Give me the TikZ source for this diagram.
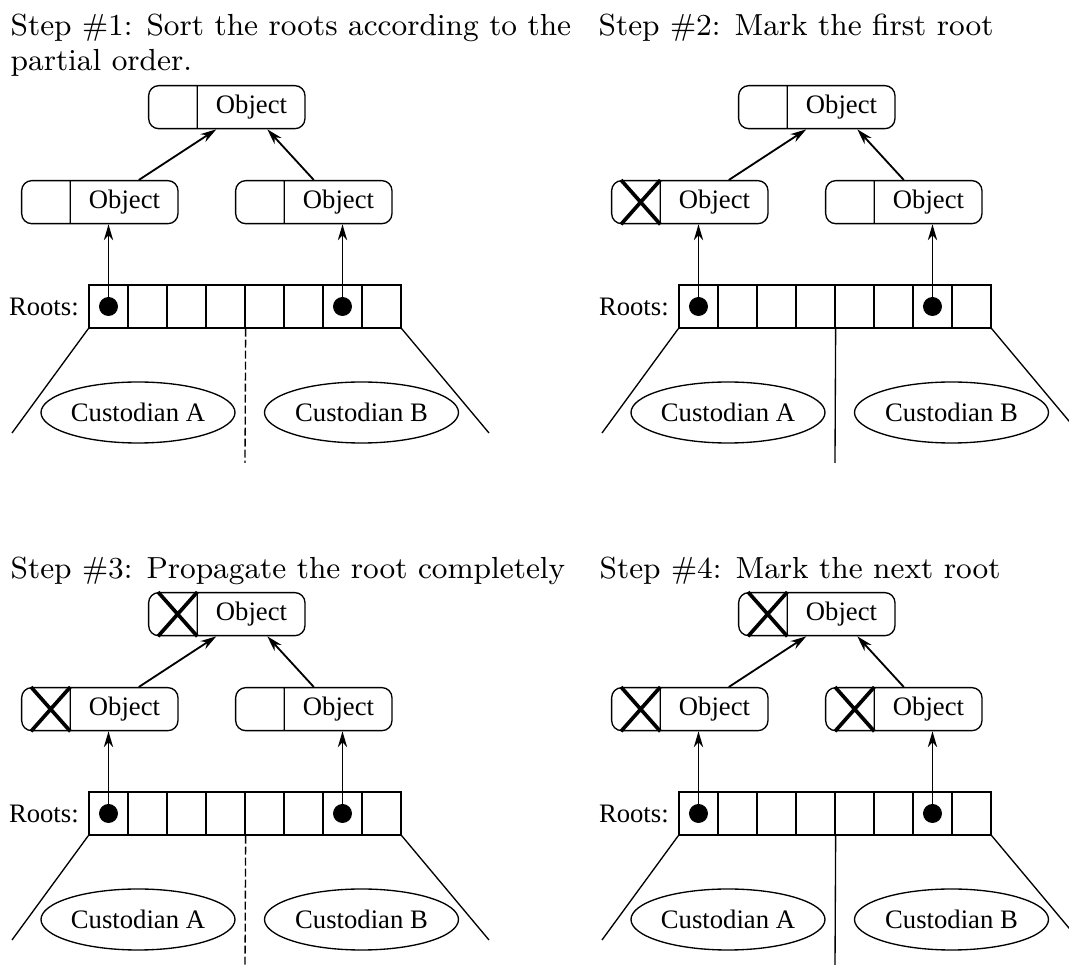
\documentclass[tikz,border=0pt]{standalone}
\usepackage{fontspec}
\newfontfamily\figfont{Liberation Serif}
\usetikzlibrary{arrows.meta,shapes.geometric,shapes.multipart}

% one panel: #1 name prefix, #2 shift, #3 style of the middle cut
\newcommand{\rootpanel}[3]{%
  \begin{scope}[shift={#2}]
    \node[objbox, anchor=north west] (#1top) at (148,85)
      {\nodepart{one}\rule{3.63pt}{0pt}\nodepart{two}Object};
    \node[objbox, anchor=north west] (#1left) at (21,180)
      {\nodepart{one}\rule{3.63pt}{0pt}\nodepart{two}Object};
    \node[objbox, anchor=north west] (#1right) at (235,180)
      {\nodepart{one}\rule{3.63pt}{0pt}\nodepart{two}Object};
    \foreach \i in {1,...,8}
      \node[cell] (#1c\i) at ({69.5+39*\i},306.5) {};
    \node[figtext, anchor=east, inner xsep=2.7pt] (#1lab) at (#1c1.west) {Roots:};
    \node[dot] (#1d1) at (#1c1) {};
    \node[dot] (#1d7) at (#1c7) {};
    \draw[ptr] (#1d1.center) -- (#1d1.center |- #1left.south);
    \draw[ptr] (#1d7.center) -- (#1d7.center |- #1right.south);
    \draw[ptr] ([shift={(39,0)}]#1left.north) -- ([shift={(-10.5,0)}]#1top.south);
    \draw[ptr] (#1right.north) -- ([shift={(40.5,0)}]#1top.south);
    \coordinate (#1ll) at (12,433);
    \coordinate (#1lr) at (489,433);
    \coordinate (#1lb) at (245,463);
    \draw[thinline] (#1c1.south west) -- (#1ll);
    \draw[thinline] (#1c8.south east) -- (#1lr);
    \draw[thinline,#3] (#1c4.south east) -- (#1lb);
    \node[custbox] (#1ca) at (138,412.5) {Custodian A};
    \node[custbox] (#1cb) at (361.5,412.5) {Custodian B};
  \end{scope}
}
% cross in the left part of an object
\newcommand{\markobj}[1]{%
  \draw[markx] ([xshift=3pt]#1.north west) -- (#1.one split south)
               ([xshift=3pt]#1.south west) -- (#1.one split north);
}

\begin{document}
\begin{tikzpicture}[
    x=0.3pt, y=-0.3pt,
    figtext/.style={font=\figfont\fontsize{8}{9.6}\selectfont},
    objbox/.style={figtext, draw, line width=0.4pt, rounded corners=3pt,
      rectangle split, rectangle split horizontal, rectangle split parts=2,
      inner xsep=5.385pt, inner ysep=1.5pt, text height=8pt, text depth=1.9pt},
    cell/.style={draw, line width=0.4pt, minimum width=11.7pt,
      minimum height=12.9pt, inner sep=0pt},
    dot/.style={circle, fill, minimum size=5.7pt, inner sep=0pt},
    custbox/.style={figtext, ellipse, draw, line width=0.4pt,
      minimum width=58.2pt, minimum height=18.3pt, inner sep=0pt},
    ptr/.style={-{Stealth[length=4.8pt,width=2.8pt]}, line width=0.55pt},
    thinline/.style={line width=0.4pt},
    cutdashed/.style={dash pattern=on 2.4pt off 0.9pt},
    cutsolid/.style={},
    markx/.style={line width=1.1pt},
    steptitle/.style={anchor=base west, align=left, inner sep=0pt,
      font=\fontsize{9.15}{10.5}\selectfont}
    ]
    \useasboundingbox (0,0) rectangle (1069,965);

    \rootpanel{p1}{(0,0)}{cutdashed}
    \rootpanel{p2}{(590,0)}{cutsolid}
    \rootpanel{p3}{(0,507)}{cutdashed}
    \rootpanel{p4}{(590,507)}{cutsolid}

    \markobj{p2left}
    \markobj{p3top}
    \markobj{p3left}
    \markobj{p4top}
    \markobj{p4left}
    \markobj{p4right}

    % base of a two-line title is its last line
    \node[steptitle] (t1) at (10,71) {Step \#1: Sort the roots according to the\\partial order.};
    \node[steptitle] (t2) at (598,36) {Step \#2: Mark the first root};
    \node[steptitle] (t3) at (10,579) {Step \#3: Propagate the root completely};
    \node[steptitle] (t4) at (599,579) {Step \#4: Mark the next root};
  \end{tikzpicture}
\end{document}
